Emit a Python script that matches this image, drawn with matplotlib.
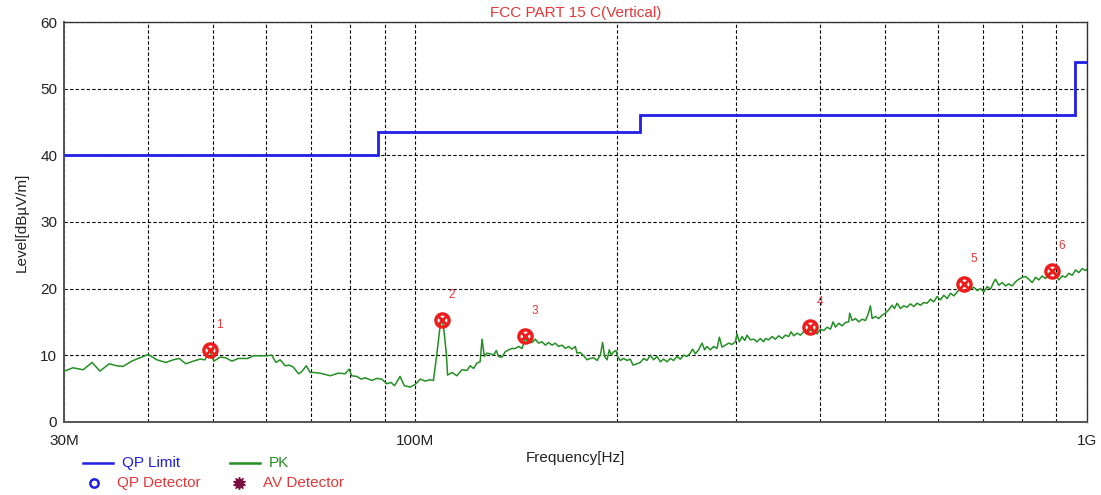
import matplotlib
matplotlib.use("Agg")
import matplotlib.pyplot as plt
from matplotlib.lines import Line2D
from matplotlib.ticker import FixedLocator, NullFormatter

plt.rcParams['font.family'] = ['Liberation Sans', 'DejaVu Sans']

# Peak-detector sweep (frequency in MHz, level in dBuV/m)
pk_freq = [
    30.0, 30.9, 32.0, 33.0, 33.9, 35.0, 35.9, 36.7, 37.8, 39.1, 40.0, 41.2, 42.5, 43.6, 44.5,
    45.5, 46.7, 47.8, 48.6, 49.4, 50.1, 51.2, 52.2, 53.3, 54.5, 56.3, 57.4, 58.7, 60.1, 61.1,
    62.0, 62.9, 64.0, 64.9, 65.8, 67.0, 67.7, 68.8, 69.7, 70.5, 72.1, 74.7, 76.8, 78.6, 79.7,
    80.4, 81.8, 83.0, 84.2, 86.1, 87.6, 89.1, 90.7, 92.0, 93.1, 94.9, 96.3, 98.3, 100.0, 101.7,
    103.4, 105.2, 106.4, 107.7, 108.9, 109.5, 110.1, 111.2, 111.7, 113.4, 115.3, 117.3, 119.4, 120.7, 122.1,
    123.5, 124.9, 125.7, 126.7, 127.8, 129.3, 130.8, 132.0, 133.0, 134.6, 136.1, 137.7, 139.3, 140.9, 142.5,
    144.2, 145.8, 147.5, 149.2, 150.9, 152.6, 154.4, 156.2, 157.9, 159.8, 161.6, 163.4, 165.4, 167.3, 169.2,
    171.1, 173.1, 174.1, 176.1, 178.1, 180.2, 182.2, 184.3, 186.5, 188.6, 190.1, 191.4, 193.0, 194.5, 195.8,
    197.4, 199.0, 200.1, 202.0, 204.3, 206.7, 209.0, 211.0, 213.9, 216.3, 218.8, 221.3, 223.9, 226.4, 229.1,
    231.7, 234.3, 237.1, 239.8, 242.5, 245.3, 248.1, 251.0, 253.9, 256.8, 258.8, 261.2, 264.2, 267.3, 269.7,
    271.9, 275.0, 278.2, 281.4, 283.7, 286.3, 289.6, 292.9, 296.3, 299.7, 301.4, 303.8, 306.7, 309.4, 312.0,
    315.5, 319.1, 322.9, 326.5, 330.2, 332.2, 336.0, 339.9, 343.8, 347.7, 351.8, 355.8, 359.8, 362.8, 366.1,
    370.4, 374.6, 378.8, 383.3, 387.7, 392.1, 396.7, 401.2, 405.8, 410.5, 415.2, 419.1, 422.4, 427.2, 432.2,
    437.1, 442.1, 443.6, 447.3, 452.4, 457.5, 462.9, 468.2, 471.9, 476.3, 479.1, 484.5, 490.0, 495.8, 501.4,
    507.1, 513.1, 517.1, 522.0, 527.9, 533.9, 540.2, 546.3, 552.6, 559.0, 565.4, 571.9, 578.6, 585.2, 591.8,
    598.8, 605.6, 612.5, 619.7, 626.7, 633.9, 641.3, 648.6, 656.0, 663.7, 671.3, 678.9, 686.9, 694.7, 702.6,
    710.8, 718.9, 727.1, 731.4, 739.7, 748.4, 756.9, 765.5, 774.5, 783.3, 792.3, 801.6, 810.7, 819.9, 829.6,
    839.0, 848.6, 858.5, 868.3, 878.2, 888.5, 898.6, 908.8, 919.5, 930.0, 940.6, 951.6, 962.5, 973.4, 984.8,
    996.1, 1000.0,
]
pk_level = [
    7.6, 8.1, 7.8, 8.9, 7.6, 8.7, 8.4, 8.3, 9.1, 9.7, 10.1, 9.3, 8.9, 9.3, 9.5,
    8.7, 9.1, 9.4, 9.3, 10.7, 9.1, 9.7, 9.6, 9.1, 9.5, 9.5, 9.9, 9.9, 9.9, 10.0,
    8.9, 9.3, 8.4, 8.5, 8.2, 7.2, 7.5, 8.4, 7.4, 7.4, 7.3, 6.9, 7.3, 7.2, 7.9,
    6.9, 6.8, 6.4, 6.6, 6.2, 6.5, 6.4, 5.7, 5.9, 5.4, 6.8, 5.4, 5.2, 5.6, 6.4,
    6.1, 6.3, 6.2, 10.3, 14.5, 15.3, 14.5, 10.3, 7.0, 7.4, 6.9, 7.8, 7.7, 8.4, 8.0,
    8.8, 9.0, 12.4, 9.8, 10.3, 10.2, 10.0, 10.7, 9.8, 9.7, 10.5, 10.8, 11.0, 11.0, 11.3,
    11.0, 12.5, 11.9, 11.9, 12.4, 11.8, 12.0, 11.5, 11.9, 11.5, 11.8, 11.3, 11.5, 11.0, 11.3,
    10.9, 11.3, 10.3, 10.4, 9.9, 9.3, 9.5, 9.6, 9.2, 10.0, 11.9, 9.8, 9.3, 10.8, 10.0,
    10.5, 10.7, 9.8, 9.2, 9.5, 9.2, 9.4, 8.5, 8.7, 8.9, 9.5, 9.2, 10.0, 9.3, 9.8,
    9.0, 9.4, 9.0, 9.5, 9.2, 9.8, 9.4, 10.0, 9.8, 10.3, 10.9, 10.2, 10.8, 11.8, 10.8,
    11.3, 10.8, 11.3, 11.0, 12.7, 11.2, 11.5, 11.8, 11.6, 12.0, 13.2, 12.0, 12.8, 12.2, 13.0,
    12.3, 12.4, 12.0, 12.5, 12.0, 12.5, 12.3, 12.8, 12.4, 12.9, 12.5, 13.0, 12.8, 13.5, 12.9,
    13.3, 13.0, 13.5, 13.3, 13.8, 13.5, 13.2, 13.9, 13.7, 14.2, 13.9, 15.0, 14.2, 14.8, 14.4,
    14.9, 15.0, 16.3, 15.2, 15.5, 15.0, 15.4, 15.2, 16.0, 17.4, 15.5, 15.8, 15.5, 16.0, 16.3,
    16.8, 17.5, 17.0, 17.8, 17.0, 17.4, 17.2, 17.7, 17.3, 17.8, 17.5, 17.9, 17.8, 18.4, 18.0,
    18.8, 18.3, 19.0, 18.5, 19.3, 18.9, 19.5, 20.0, 20.5, 20.3, 19.9, 20.2, 19.7, 20.0, 19.5,
    20.3, 19.9, 21.0, 21.4, 20.5, 20.9, 20.4, 20.7, 20.4, 21.0, 21.4, 21.7, 21.8, 21.4, 20.9,
    21.7, 21.3, 21.9, 21.5, 22.3, 22.5, 22.3, 21.3, 21.9, 21.7, 22.3, 22.0, 22.8, 22.4, 23.0,
    22.7, 22.9,
]

# FCC Part 15 quasi-peak limit at 3 m (band edges in MHz, limit in dBuV/m)
limit_edges = [30, 88, 216, 960, 1000]
limit_level = [40.0, 43.5, 46.0, 54.0]

# Suspect points found on the sweep
marker_id = ["1", "2", "3", "4", "5", "6"]
marker_freq = [49.4, 109.5, 145.8, 387.7, 656.0, 888.5]
marker_level = [10.7, 15.3, 12.8, 14.2, 20.7, 22.7]

x_tick_values = [30, 100, 1000]
x_tick_labels = ["30M", "100M", "1G"]
x_grid_values = [40, 50, 60, 70, 80, 90, 200, 300, 400, 500, 600, 700, 800, 900]
y_tick_values = [0, 10, 20, 30, 40, 50, 60]

RED = "#e23838"
MARK_RED = "#f01c1c"
BLUE = "#1f1fe6"
GREEN = "#238f23"

fig = plt.figure(figsize=(11.01, 4.95), dpi=100)
ax = fig.add_axes([64.3 / 1101, 1 - 421.7 / 495, (1086.7 - 64.3) / 1101, (421.7 - 22.3) / 495])

ax.set_xscale("log")
ax.set_xlim(30, 1000)
ax.set_ylim(0, 60)

ax.xaxis.set_major_locator(FixedLocator(x_tick_values))
ax.xaxis.set_minor_locator(FixedLocator(x_grid_values))
ax.xaxis.set_minor_formatter(NullFormatter())
ax.set_xticklabels(x_tick_labels)
ax.set_yticks(y_tick_values)
ax.tick_params(axis="both", which="both", length=0, labelsize=11, colors="#222222")
ax.tick_params(axis="x", pad=9)
ax.tick_params(axis="y", pad=5)

grid_style = dict(color="black", linestyle=(0, (3, 2)), linewidth=0.8)
ax.grid(True, which="major", **grid_style)
ax.grid(True, which="minor", axis="x", **grid_style)
ax.set_axisbelow(True)

for side in ("left", "bottom"):
    ax.spines[side].set_color("#555555")
    ax.spines[side].set_linewidth(1.4)
for side in ("top", "right"):
    ax.spines[side].set_color("#333333")
    ax.spines[side].set_linewidth(1.0)

# Limit line
ax.stairs(limit_level, limit_edges, color=BLUE, linewidth=2.0, baseline=None, zorder=3)

# Measured trace
ax.plot(pk_freq, pk_level, color=GREEN, linewidth=1.1, zorder=4)

# Markers with their index numbers
ax.plot(marker_freq, marker_level, linestyle="none", marker="o", markersize=9.5,
        markerfacecolor="none", markeredgecolor=MARK_RED, markeredgewidth=2.4, zorder=5)
ax.plot(marker_freq, marker_level, linestyle="none", marker="x", markersize=6,
        markeredgecolor=MARK_RED, markeredgewidth=2.0, zorder=5)
for mid, f, lv in zip(marker_id, marker_freq, marker_level):
    ax.annotate(mid, (f, lv), xytext=(7, 18), textcoords="offset points",
                color=RED, fontsize=8.5, ha="center", va="center")

ax.set_title("FCC PART 15 C(Vertical)", color=RED, fontsize=11, pad=4)
ax.set_xlabel("Frequency[Hz]", fontsize=11, color="#222222", labelpad=2)
ax.set_ylabel("Level[dBµV/m]", fontsize=11, color="#222222", labelpad=8)

# Legend drawn below the axes
def fx(px):
    return px / 1101

def fy(py):
    return 1 - py / 495

fig.add_artist(Line2D([fx(83), fx(113)], [fy(463), fy(463)], color=BLUE, linewidth=1.8))
fig.text(fx(122), fy(463), "QP Limit", color=BLUE, fontsize=11, va="center", ha="left")
fig.add_artist(Line2D([fx(230), fx(260)], [fy(463), fy(463)], color=GREEN, linewidth=1.8))
fig.text(fx(269), fy(463), "PK", color=GREEN, fontsize=11, va="center", ha="left")
fig.add_artist(Line2D([fx(94)], [fy(483)], marker="o", markersize=6, markerfacecolor="none",
                      markeredgecolor=BLUE, markeredgewidth=1.8, linestyle="none"))
fig.text(fx(117), fy(483), "QP Detector", color=RED, fontsize=11, va="center", ha="left")
fig.add_artist(Line2D([fx(239)], [fy(483)], marker=(10, 1, 0), markersize=9,
                      color="#7a1040", linestyle="none"))
fig.text(fx(263), fy(483), "AV Detector", color=RED, fontsize=11, va="center", ha="left")

fig.savefig("out.png", dpi=100)
